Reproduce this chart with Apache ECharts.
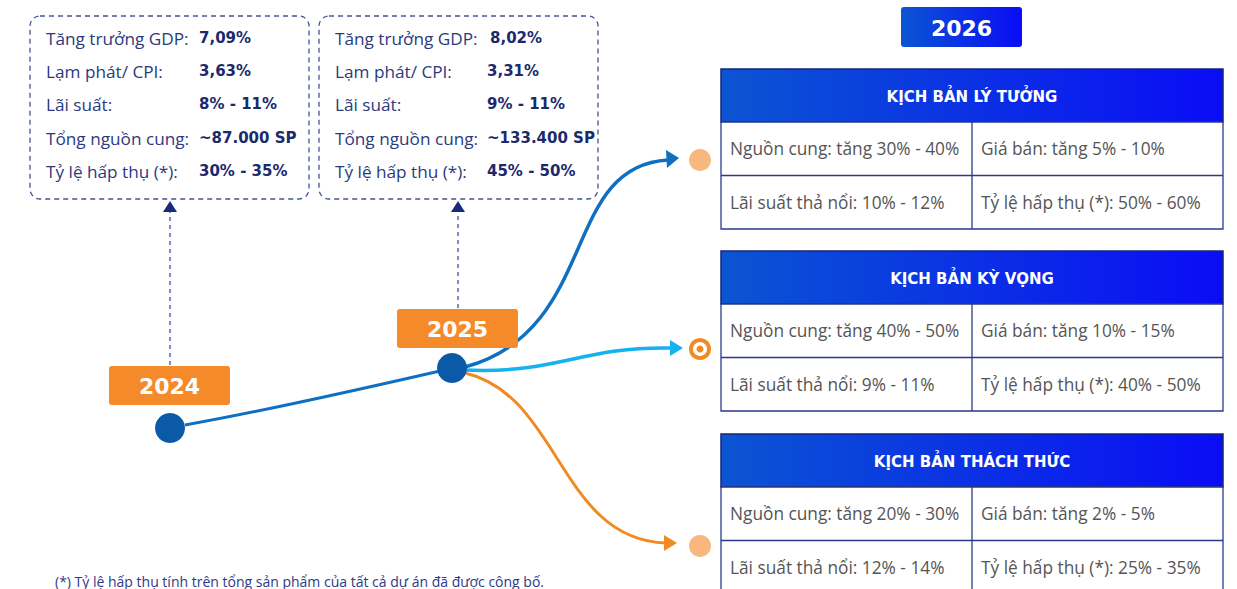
<!DOCTYPE html>
<html><head><meta charset="utf-8">
<script src="https://cdn.jsdelivr.net/npm/echarts@6/dist/echarts.min.js"></script>
<style>html,body{margin:0;padding:0;background:#fff}#c{width:1237px;height:589px}</style>
</head><body><div id="c"></div>
<script>
// ---- content ----
const years = ['2024', '2025'];
const indicatorLabels = ['Tăng trưởng GDP:', 'Lạm phát/ CPI:', 'Lãi suất:', 'Tổng nguồn cung:', 'Tỷ lệ hấp thụ (*):'];
const values2024 = ['7,09%', '3,63%', '8% - 11%', '~87.000 SP', '30% - 35%'];
const values2025 = ['8,02%', '3,31%', '9% - 11%', '~133.400 SP', '45% - 50%'];
const forecastYear = '2026';
const scenarioTitles = ['KỊCH BẢN LÝ TƯỞNG', 'KỊCH BẢN KỲ VỌNG', 'KỊCH BẢN THÁCH THỨC'];
const scenarioSupply = ['Nguồn cung: tăng 30% - 40%', 'Nguồn cung: tăng 40% - 50%', 'Nguồn cung: tăng 20% - 30%'];
const scenarioPrice = ['Giá bán: tăng 5% - 10%', 'Giá bán: tăng 10% - 15%', 'Giá bán: tăng 2% - 5%'];
const scenarioRate = ['Lãi suất thả nổi: 10% - 12%', 'Lãi suất thả nổi: 9% - 11%', 'Lãi suất thả nổi: 12% - 14%'];
const scenarioAbsorb = ['Tỷ lệ hấp thụ (*): 50% - 60%', 'Tỷ lệ hấp thụ (*): 40% - 50%', 'Tỷ lệ hấp thụ (*): 25% - 35%'];
const footnote = '(*) Tỷ lệ hấp thụ tính trên tổng sản phẩm của tất cả dự án đã được công bố.';

// ---- styles ----
const FONT = '"Open Sans", "Noto Sans", sans-serif';
const BFONT = '"DejaVu Sans", "Open Sans", sans-serif';
const NAVY = '#2b3a7e', NAVY_B = '#1a2a6c', ORANGE = '#f28a24', BLUE = '#0a5aa8';
const headGrad = {type: 'linear', x: 0, y: 0, x2: 1, y2: 0, colorStops: [{offset: 0, color: '#0b55d2'}, {offset: 1, color: '#0a0cf6'}]};

const els = [];
function txt(x, y, t, o) {
  els.push({type: 'text', x, y, style: Object.assign({text: t, fill: NAVY, fontFamily: FONT, fontSize: 15, verticalAlign: 'middle', align: 'left'}, o || {}), z: 10});
}
// indicator boxes
function infoBox(x0, valuesX, vals) {
  els.push({type: 'rect', shape: {x: x0, y: 16, width: 279, height: 183, r: 10},
    style: {fill: 'none', stroke: '#44549a', lineWidth: 1.3, lineDash: [5, 4]}});
  const rowsY = [38, 71, 104, 138, 171];
  indicatorLabels.forEach((l, i) => {
    txt(x0 + 16, rowsY[i], l, {fontSize: 17.2});
    txt(valuesX[i], rowsY[i], vals[i], {fill: NAVY_B, fontFamily: BFONT, fontWeight: 'bold', fontSize: 15});
  });
}
infoBox(30, [199, 199, 199, 199, 199], values2024);
infoBox(319, [490, 487, 487, 487, 487], values2025);

// dashed pointers with arrowheads
[[170, 365], [458, 308]].forEach(([x, yb]) => {
  els.push({type: 'line', shape: {x1: x, y1: yb, x2: x, y2: 212}, style: {stroke: '#5a68a8', lineWidth: 1.5, lineDash: [4, 4]}});
  els.push({type: 'polygon', shape: {points: [[x - 7, 212], [x, 201], [x + 7, 212]]}, style: {fill: '#1b2a7c'}});
});

// timeline
els.push({type: 'bezierCurve', shape: {x1: 185, y1: 425, cpx1: 270, cpy1: 410, x2: 440, y2: 371}, style: {stroke: '#0f6fc0', lineWidth: 3, fill: 'none'}});
// branches
els.push({type: 'bezierCurve', shape: {x1: 465, y1: 367, cpx1: 600, cpy1: 330, cpx2: 560, cpy2: 166, x2: 668, y2: 160}, style: {stroke: '#0f6fc0', lineWidth: 3.5, fill: 'none'}});
els.push({type: 'polygon', shape: {points: [[666, 150], [679, 158], [667, 168]]}, style: {fill: '#0f6fc0'}});
els.push({type: 'bezierCurve', shape: {x1: 465, y1: 370, cpx1: 560, cpy1: 374, cpx2: 580, cpy2: 346, x2: 672, y2: 348}, style: {stroke: '#14b2ee', lineWidth: 3.5, fill: 'none'}});
els.push({type: 'polygon', shape: {points: [[670, 340], [683, 348], [670, 356]]}, style: {fill: '#14b2ee'}});
els.push({type: 'bezierCurve', shape: {x1: 465, y1: 373, cpx1: 560, cpy1: 395, cpx2: 560, cpy2: 540, x2: 666, y2: 543}, style: {stroke: ORANGE, lineWidth: 3, fill: 'none'}});
els.push({type: 'polygon', shape: {points: [[664, 535], [677, 543], [664, 551]]}, style: {fill: ORANGE}});

// year nodes & labels
[[170, 428, 109, 366], [452, 368, 397, 309]].forEach(([cx, cy, lx, ly], i) => {
  els.push({type: 'circle', shape: {cx, cy, r: 15}, style: {fill: BLUE}, z: 5});
  els.push({type: 'rect', shape: {x: lx, y: ly, width: 121, height: 39, r: 3}, style: {fill: '#f58a2a'}, z: 5});
  txt(lx + 60.5, ly + 20, years[i], {fill: '#fff', fontFamily: BFONT, fontWeight: 'bold', fontSize: 22, align: 'center'});
});

// scenario target markers
els.push({type: 'circle', shape: {cx: 700, cy: 160, r: 11}, style: {fill: '#f7b77f'}});
els.push({type: 'circle', shape: {cx: 700, cy: 349, r: 9}, style: {fill: '#fff', stroke: ORANGE, lineWidth: 4}});
els.push({type: 'circle', shape: {cx: 700, cy: 349, r: 3.5}, style: {fill: ORANGE}});
els.push({type: 'circle', shape: {cx: 700, cy: 546, r: 11}, style: {fill: '#f7b77f'}});

// 2026 badge
els.push({type: 'rect', shape: {x: 901, y: 7, width: 121, height: 40, r: 3}, style: {fill: headGrad}});
txt(961.5, 28, forecastYear, {fill: '#fff', fontFamily: BFONT, fontWeight: 'bold', fontSize: 22, align: 'center'});

// scenario tables
const tableTops = [69, 251, 434];
tableTops.forEach((t, i) => {
  const L = 721, R = 1223, M = 972, hh = 53, rh = 53.5;
  els.push({type: 'rect', shape: {x: L, y: t, width: R - L, height: hh}, style: {fill: headGrad, stroke: '#15247a', lineWidth: 1.5}});
  txt((L + R) / 2, t + hh / 2 + 1, scenarioTitles[i], {fill: '#fff', fontFamily: BFONT, fontWeight: 'bold', fontSize: 15, align: 'center'});
  els.push({type: 'rect', shape: {x: L, y: t + hh, width: R - L, height: rh * 2}, style: {fill: '#fff', stroke: '#2a3a8a', lineWidth: 1.3}});
  els.push({type: 'line', shape: {x1: L, y1: t + hh + rh, x2: R, y2: t + hh + rh}, style: {stroke: '#2a3a8a', lineWidth: 1.3}});
  els.push({type: 'line', shape: {x1: M, y1: t + hh, x2: M, y2: t + hh + rh * 2}, style: {stroke: '#2a3a8a', lineWidth: 1.3}});
  const g = {fill: '#555', fontSize: 17.3};
  txt(L + 9, t + hh + rh / 2, scenarioSupply[i], g);
  txt(M + 9, t + hh + rh / 2, scenarioPrice[i], g);
  txt(L + 9, t + hh + rh * 1.5, scenarioRate[i], g);
  txt(M + 9, t + hh + rh * 1.5, scenarioAbsorb[i], g);
});

txt(55, 581, footnote, {fontSize: 14, fill: '#2b3a8a'});

const chart = echarts.init(document.getElementById('c'), null, {renderer: 'svg'});
chart.setOption({animation: false, graphic: {elements: els}});
</script></body></html>
